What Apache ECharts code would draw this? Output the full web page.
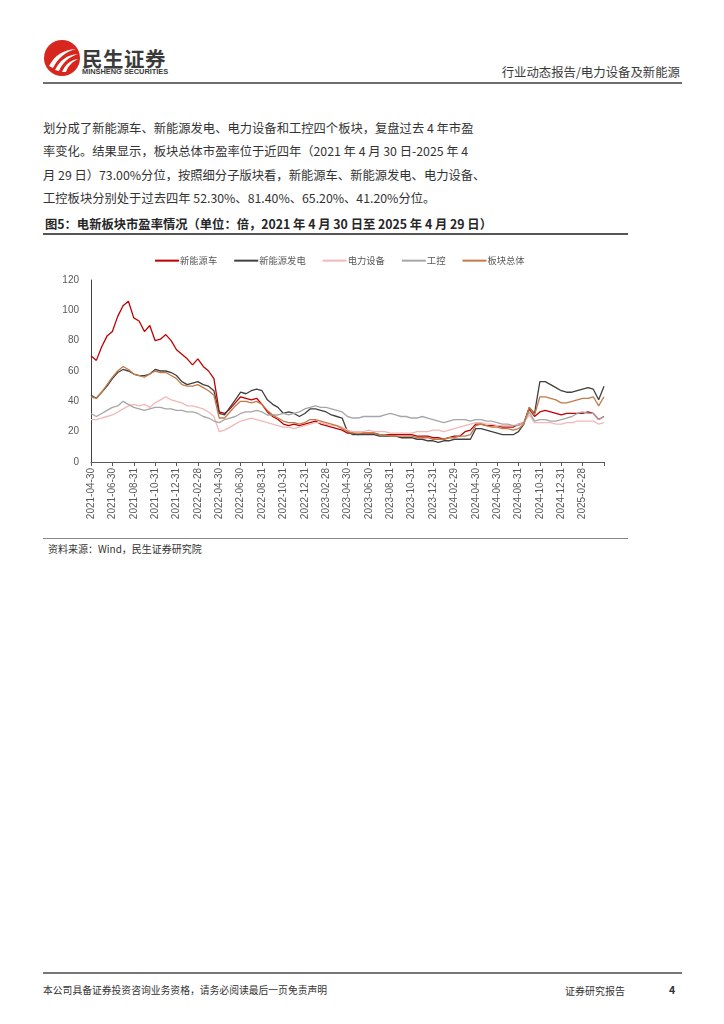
<!DOCTYPE html>
<html><head><meta charset="utf-8">
<script src="https://cdn.jsdelivr.net/npm/echarts@6/dist/echarts.min.js"></script>
<style>
html,body{margin:0;padding:0;background:#fff;}
#page{position:relative;width:724px;height:1024px;overflow:hidden;font-family:"Noto Sans CJK SC","Liberation Sans",sans-serif;color:#262626;}
.abs{position:absolute;white-space:nowrap;}
.line{position:absolute;}
.body{font-size:12.3px;line-height:23.4px;left:43px;top:117px;color:#333;}
</style></head>
<body><div id="page">
<svg class="abs" style="left:43px;top:39px" width="40" height="40" viewBox="0 0 40 40">
<circle cx="19" cy="19" r="18" fill="#d7261e"/>
<path d="M6 27 C12 16 20 11 33 10 C22 13 15 19 10 29 Z" fill="#fff"/>
<path d="M12 31 C17 21 24 16 35 15 C26 18 20 23 16 32 Z" fill="#fff"/>
<path d="M19 33 C22 26 27 21 35 20 C29 23 25 27 23 33 Z" fill="#fff"/>
</svg>
<div class="abs" style="left:82px;top:43px;font-size:20.5px;font-weight:bold;color:#3a3a3a;letter-spacing:0.5px;">民生证券</div>
<div class="abs" style="left:82px;top:67px;font-size:7.4px;font-weight:bold;color:#3a3a3a;font-family:'Liberation Sans',sans-serif;">MINSHENG SECURITIES</div>
<div class="abs" style="right:44px;top:63px;font-size:12.4px;color:#3a3a3a;">行业动态报告/电力设备及新能源</div>
<div class="line" style="left:43px;top:82px;width:639px;height:1.5px;background:#6e6e6e;"></div>

<div class="abs body">划分成了新能源车、新能源发电、电力设备和工控四个板块，复盘过去 4 年市盈<br>率变化。结果显示，板块总体市盈率位于近四年（2021 年 4 月 30 日-2025 年 4<br>月 29 日）73.00%分位，按照细分子版块看，新能源车、新能源发电、电力设备、<br>工控板块分别处于过去四年 52.30%、81.40%、65.20%、41.20%分位。</div>

<div class="abs" style="left:45px;top:215px;font-size:12.3px;font-weight:bold;color:#262626;">图5：电新板块市盈率情况（单位：倍，2021 年 4 月 30 日至 2025 年 4 月 29 日）</div>
<div class="line" style="left:43px;top:233px;width:585px;height:1.5px;background:#555;"></div>

<div id="chart" style="position:absolute;left:0;top:240px;width:724px;height:295px;"></div>

<div class="line" style="left:43px;top:538px;width:585px;height:1px;background:#888;"></div>
<div class="abs" style="left:48px;top:541px;font-size:10px;color:#333;">资料来源：Wind，民生证券研究院</div>

<div class="line" style="left:43px;top:972px;width:639px;height:1.5px;background:#777;"></div>
<div class="abs" style="left:43px;top:983px;font-size:9.8px;color:#333;">本公司具备证券投资咨询业务资格，请务必阅读最后一页免责声明</div>
<div class="abs" style="left:565px;top:983px;font-size:10px;color:#333;">证券研究报告</div>
<div class="abs" style="left:669px;top:982px;font-size:10.5px;font-weight:bold;color:#333;">4</div>
</div>
<script>
var dates = [
'2021-04-30','2021-05-15','2021-05-31','2021-06-15','2021-06-30','2021-07-15','2021-07-31','2021-08-15','2021-08-31','2021-09-15','2021-09-30','2021-10-15','2021-10-31','2021-11-15','2021-11-30','2021-12-15','2021-12-31',
'2022-01-15','2022-01-31','2022-02-15','2022-02-28','2022-03-15','2022-03-31','2022-04-15','2022-04-30','2022-05-15','2022-05-31','2022-06-15','2022-06-30','2022-07-15','2022-07-31','2022-08-15','2022-08-31','2022-09-15','2022-09-30','2022-10-15','2022-10-31','2022-11-15','2022-11-30','2022-12-15','2022-12-31',
'2023-01-15','2023-01-31','2023-02-15','2023-02-28','2023-03-15','2023-03-31','2023-04-15','2023-04-30','2023-05-15','2023-05-31','2023-06-15','2023-06-30','2023-07-15','2023-07-31','2023-08-15','2023-08-31','2023-09-15','2023-09-30','2023-10-15','2023-10-31','2023-11-15','2023-11-30','2023-12-15','2023-12-31',
'2024-01-15','2024-01-31','2024-02-15','2024-02-29','2024-03-15','2024-03-31','2024-04-15','2024-04-30','2024-05-15','2024-05-31','2024-06-15','2024-06-30','2024-07-15','2024-07-31','2024-08-15','2024-08-31','2024-09-15','2024-09-30','2024-10-15','2024-10-31','2024-11-15','2024-11-30','2024-12-15','2024-12-31',
'2025-01-15','2025-01-31','2025-02-15','2025-02-28','2025-03-15','2025-03-31','2025-04-15','2025-04-29'];

var tickLabels = ['2021-04-30','2021-06-30','2021-08-31','2021-10-31','2021-12-31','2022-02-28','2022-04-30','2022-06-30','2022-08-31','2022-10-31','2022-12-31','2023-02-28','2023-04-30','2023-06-30','2023-08-31','2023-10-31','2023-12-31','2024-02-29','2024-04-30','2024-06-30','2024-08-31','2024-10-31','2024-12-31','2025-02-28'];

var seriesNames = ['新能源车','新能源发电','电力设备','工控','板块总体'];

var nevValues = [70,67,76,83,86,96,103,106,95,93,86,90,80,81,84,80,74,71,68,64,68,63,60,55,33,
32,35,39,43,42,41,42,38,33,30,28,25,24,25,24,25,26,27,25,24,23,22,21,19,
19,18,19,19,19,18,18,18,18,18,18,18,17,17,17,16,16,15,16,17,17,20,21,25,
25,24,24,24,23,23,23,25,26,35,30,33,34,33,32,31,32,32,32,32,33,32,28,30];

var genValues = [44,42,46,50,55,59,61,60,58,57,57,58,61,60,60,59,57,53,51,52,53,51,50,47,32,
31,36,41,46,45,47,48,47,41,38,36,32,33,32,30,32,35,35,34,33,31,30,29,20,
18,18,18,18,18,17,17,17,17,16,16,16,15,15,14,14,13,14,14,15,15,15,15,22,
22,21,20,19,18,18,18,20,25,36,32,53,53,51,49,47,46,46,47,48,49,48,41,50];

var equipValues = [28,28,29,30,31,33,35,37,38,37,38,36,39,41,43,41,40,39,37,37,36,35,33,30,20,
21,23,25,27,28,29,28,27,26,25,24,23,23,22,23,24,25,26,26,25,24,24,23,21,
20,20,20,21,20,20,20,19,19,19,19,19,20,20,20,21,21,20,21,22,23,24,25,26,
26,25,25,24,24,24,24,25,26,31,26,26,26,26,25,25,26,26,27,27,27,27,25,26];

var ctrlValues = [32,30,32,34,36,37,40,38,36,35,34,35,36,36,35,35,34,34,33,33,32,30,29,27,26,
28,29,30,32,33,33,34,33,31,31,31,32,31,32,33,35,36,37,36,36,35,34,33,30,
29,29,30,30,30,30,31,32,31,30,30,29,29,30,29,28,27,26,27,28,28,28,27,28,
28,27,27,26,25,25,24,24,26,33,27,28,28,27,27,28,29,30,32,33,32,32,28,30];

var totalValues = [43,42,46,51,56,60,63,61,58,57,56,58,60,59,59,57,55,51,50,50,51,49,47,44,29,
29,33,37,40,40,39,40,38,34,31,29,27,26,26,25,26,28,28,27,26,25,24,22,20,
19,19,19,19,19,18,18,17,17,17,17,17,16,16,16,15,15,15,16,16,17,17,18,24,
25,24,23,23,22,22,21,22,25,36,31,43,43,42,41,39,39,40,41,42,42,43,37,43];

var colors = ['#c00000','#404040','#f2b8b8','#a6a6a6','#c47a46'];
var allValues = [nevValues, genValues, equipValues, ctrlValues, totalValues];

var chart = echarts.init(document.getElementById('chart'));
var font = '"Liberation Sans","Noto Sans CJK SC",sans-serif';
function isTick(idx, val){ return tickLabels.indexOf(val) >= 0 || idx === dates.length - 1; }
chart.setOption({
  animation: false,
  color: colors,
  textStyle: {fontFamily: font},
  legend: {
    left: 150, top: 11, itemWidth: 24, itemHeight: 10, itemGap: 17,
    icon: 'path://M0,4 L24,4 L24,6 L0,6 Z',
    textStyle: {fontSize: 9.3, color: '#595959', fontFamily: '"Noto Sans CJK SC",sans-serif', padding: [0,0,0,-4]},
    data: seriesNames
  },
  grid: {left: 91, top: 40, width: 513, height: 182},
  xAxis: {
    type: 'category', data: dates, boundaryGap: false,
    axisLine: {lineStyle: {color: '#595959', width: 1}},
    axisTick: {length: 4, interval: isTick, lineStyle: {color: '#595959'}},
    axisLabel: {rotate: 90, fontSize: 10, color: '#595959', margin: 6,
      interval: function(idx, val){ return tickLabels.indexOf(val) >= 0; }},
    splitLine: {show: false}
  },
  yAxis: {
    type: 'value', min: 0, max: 120, interval: 20,
    axisLine: {show: true, lineStyle: {color: '#404040', width: 1}},
    axisTick: {show: false},
    axisLabel: {fontSize: 10, color: '#595959', margin: 12},
    splitLine: {show: false}
  },
  series: seriesNames.map(function(n, k){
    return {name: n, type: 'line', data: allValues[k], symbol: 'none',
      lineStyle: {width: 1.3, color: colors[k]}, itemStyle: {color: colors[k]}};
  })
});
</script>
</body></html>
